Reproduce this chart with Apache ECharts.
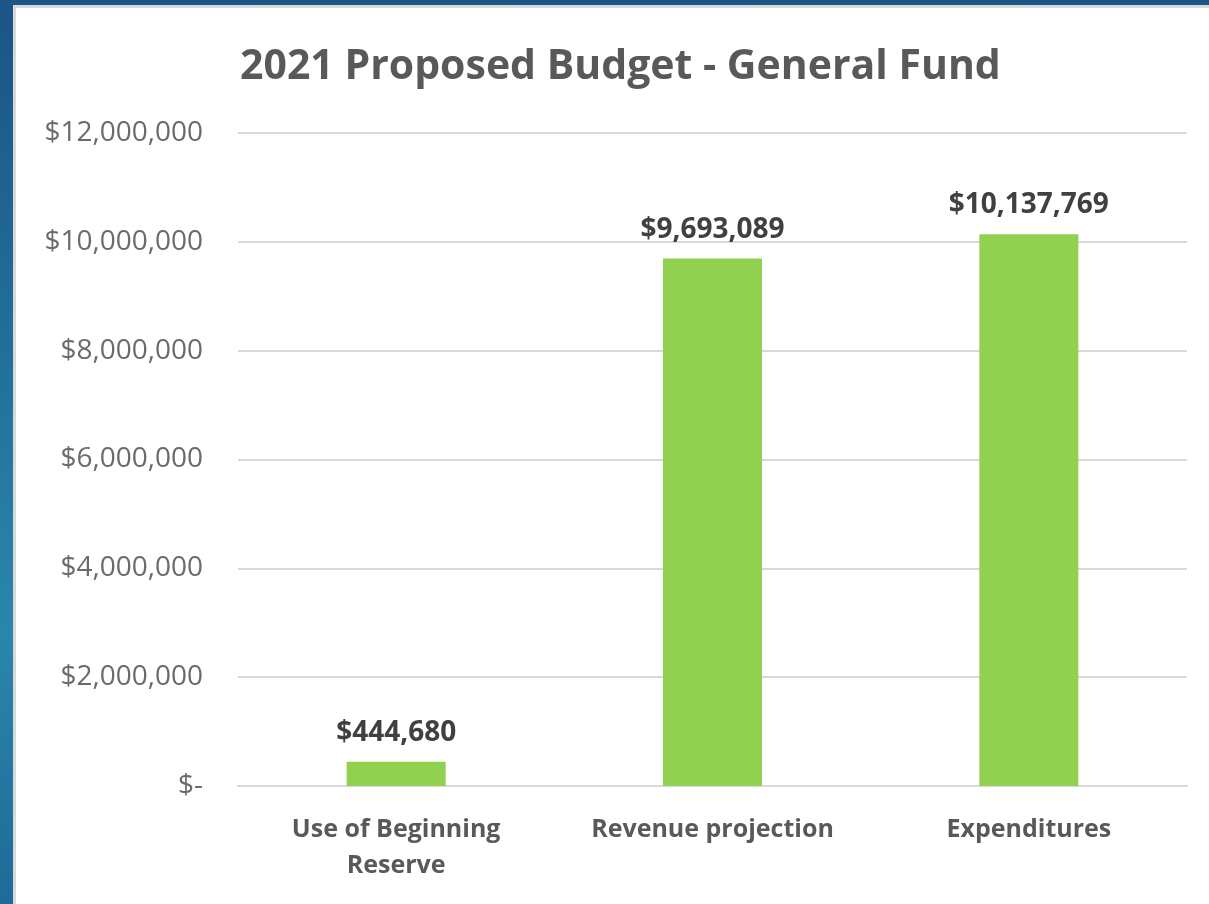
<!DOCTYPE html>
<html>
<head>
<meta charset="utf-8">
<script src="https://cdn.jsdelivr.net/npm/echarts@6/dist/echarts.min.js"></script>
<style>
  html, body { margin: 0; padding: 0; width: 1209px; height: 904px; overflow: hidden; }
  body { background: linear-gradient(180deg, #1c5488 0%, #22709c 40%, #2a86ad 70%, #1f6a98 100%); position: relative; }
  #panel { position: absolute; left: 13px; top: 5px; width: 1196px; height: 899px; background: #ffffff; border-left: 3px solid #d9d9d9; border-top: 3px solid #d9d9d9; box-sizing: border-box; }
  #chart { position: absolute; left: 0; top: 0; width: 1193px; height: 896px; }
</style>
</head>
<body>
<div id="panel"><div id="chart"></div></div>
<script>
const titleText = '2021 Proposed Budget - General Fund';
const categories = ['Use of Beginning\nReserve', 'Revenue projection', 'Expenditures'];
const values = [444680, 9693089, 10137769];
const yMin = 0, yMax = 12000000, yStep = 2000000;

function money(v) {
  if (v === 0) return '$-';
  return '$' + v.toLocaleString('en-US');
}

const chart = echarts.init(document.getElementById('chart'), null, { renderer: 'canvas' });
chart.setOption({
  animation: false,
  backgroundColor: '#ffffff',
  title: {
    text: titleText,
    left: 219,
    top: 34,
    textStyle: { fontFamily: 'Open Sans', fontWeight: 'bold', fontSize: 41, color: '#595959' }
  },
  grid: { left: 222, right: 22, top: 125, bottom: 118 },
  xAxis: {
    type: 'category',
    data: categories,
    axisLine: { show: true, lineStyle: { color: '#d9d9d9', width: 2 } },
    axisTick: { show: false },
    axisLabel: { interval: 0, hideOverlap: false, fontFamily: 'Open Sans', fontWeight: 'bold', fontSize: 25, color: '#595959', lineHeight: 36, margin: 26 }
  },
  yAxis: {
    type: 'value',
    min: yMin, max: yMax, interval: yStep,
    axisLine: { show: false },
    axisTick: { show: false },
    splitLine: { lineStyle: { color: '#d9d9d9', width: 2 } },
    axisLabel: { formatter: money, fontFamily: 'Open Sans', fontSize: 28, color: '#6b6b6b', margin: 35 }
  },
  series: [{
    type: 'bar',
    data: values,
    barWidth: 99,
    itemStyle: { color: '#92d050' },
    label: {
      show: true, position: 'top', distance: 15,
      formatter: p => money(p.value),
      fontFamily: 'Open Sans', fontWeight: 'bold', fontSize: 28, color: '#404040'
    }
  }]
});
</script>
</body>
</html>
